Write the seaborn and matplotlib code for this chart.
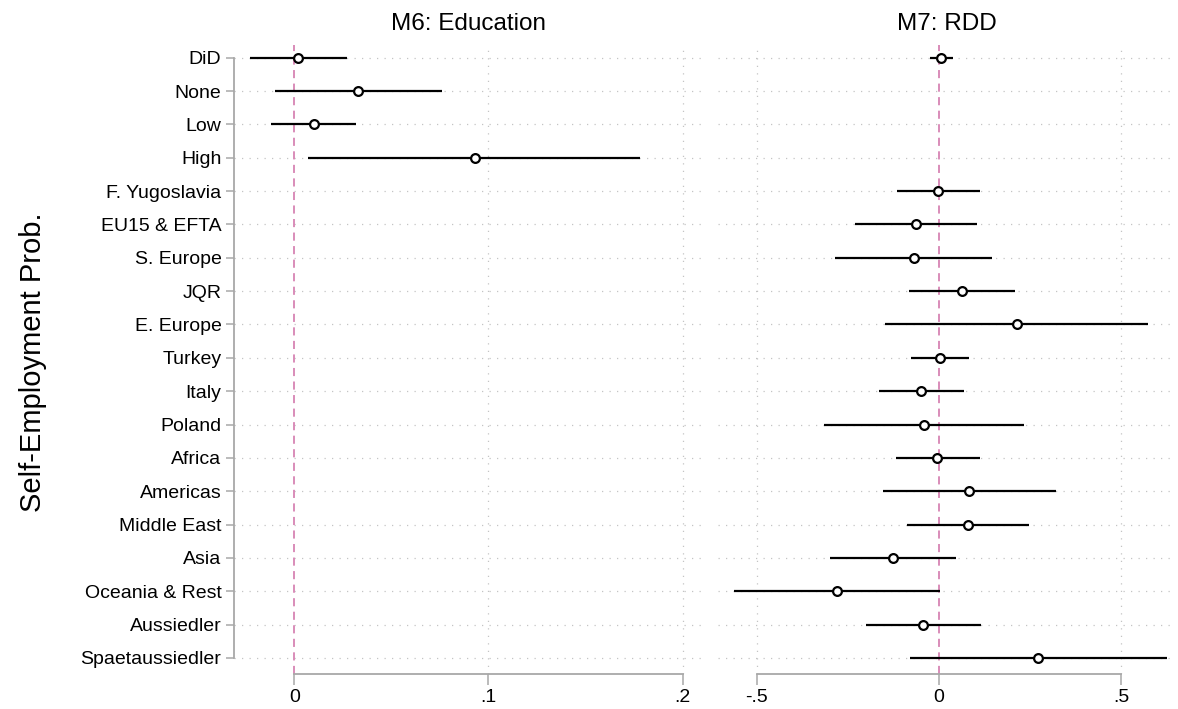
import numpy as np
import pandas as pd
import matplotlib
matplotlib.use("Agg")
import matplotlib.pyplot as plt
import seaborn as sns

# Row labels, top to bottom
terms = ["DiD", "None", "Low", "High", "F. Yugoslavia", "EU15 & EFTA",
         "S. Europe", "JQR", "E. Europe", "Turkey", "Italy", "Poland",
         "Africa", "Americas", "Middle East", "Asia", "Oceania & Rest",
         "Aussiedler", "Spaetaussiedler"]

# M6: Education
m6_terms = ["DiD", "None", "Low", "High"]
m6_coef = [0.002, 0.033, 0.010, 0.093]
m6_lo = [-0.023, -0.010, -0.012, 0.007]
m6_hi = [0.027, 0.076, 0.032, 0.178]

# M7: RDD
m7_terms = ["DiD", "F. Yugoslavia", "EU15 & EFTA", "S. Europe", "JQR",
            "E. Europe", "Turkey", "Italy", "Poland", "Africa", "Americas",
            "Middle East", "Asia", "Oceania & Rest", "Aussiedler",
            "Spaetaussiedler"]
m7_coef = [0.005, -0.003, -0.064, -0.070, 0.063, 0.213, 0.001, -0.049,
           -0.042, -0.005, 0.083, 0.079, -0.127, -0.281, -0.043, 0.271]
m7_lo = [-0.025, -0.116, -0.231, -0.286, -0.083, -0.148, -0.078, -0.165,
         -0.316, -0.118, -0.154, -0.089, -0.300, -0.563, -0.202, -0.080]
m7_hi = [0.037, 0.112, 0.103, 0.145, 0.208, 0.573, 0.082, 0.068,
         0.233, 0.112, 0.320, 0.247, 0.045, 0.002, 0.115, 0.624]

x_ticks_m6 = [0, 0.1, 0.2]
x_labels_m6 = ["0", ".1", ".2"]
x_ticks_m7 = [-0.5, 0, 0.5]
x_labels_m7 = ["-.5", "0", ".5"]

sns.set_theme(style="white")
plt.rcParams["font.family"] = ["Liberation Sans", "DejaVu Sans"]
plt.rcParams["text.color"] = "black"
plt.rcParams["xtick.labelcolor"] = "black"
plt.rcParams["ytick.labelcolor"] = "black"
plt.rcParams["axes.titlecolor"] = "black"

pos = {t: i for i, t in enumerate(terms)}
m6 = pd.DataFrame({"term": m6_terms, "coef": m6_coef, "lo": m6_lo, "hi": m6_hi})
m7 = pd.DataFrame({"term": m7_terms, "coef": m7_coef, "lo": m7_lo, "hi": m7_hi})
m6["y"] = m6["term"].map(pos)
m7["y"] = m7["term"].map(pos)

AXIS_GREY = "#a8a8a8"
GRID_GREY = "#c4c4c4"
REF_PINK = "#d783b3"

fig = plt.figure(figsize=(11.78, 7.09), dpi=100)
ax_l = fig.add_axes([234 / 1178, 1 - 674 / 709, 469 / 1178, 629 / 709])
ax_r = fig.add_axes([718 / 1178, 1 - 674 / 709, 458 / 1178, 629 / 709])

panels = [
    (ax_l, m6, "M6: Education", (-0.031, 0.2105), x_ticks_m6, x_labels_m6),
    (ax_r, m7, "M7: RDD", (-0.607, 0.650), x_ticks_m7, x_labels_m7),
]

n = len(terms)
for ax, df, title, xlim, xt, xl in panels:
    ax.set_xlim(*xlim)
    ax.set_ylim(n - 1 + 0.48, -0.38)
    # dotted grid
    for yy in range(n):
        ax.axhline(yy, color=GRID_GREY, lw=0.9, ls=(0, (1, 5)), zorder=0)
    for xx in xt:
        if xx != 0:
            ax.axvline(xx, color=GRID_GREY, lw=0.9, ls=(0, (1, 5)), zorder=0)
    # reference line at zero
    ax.axvline(0, color=REF_PINK, lw=1.3, ls=(0, (4.5, 3)), zorder=1)
    # confidence intervals
    ax.hlines(df["y"], df["lo"], df["hi"], color="black", lw=1.6, zorder=2)
    # point estimates
    sns.scatterplot(data=df, x="coef", y="y", ax=ax, marker="o", s=40,
                    facecolor="white", edgecolor="black", linewidth=1.6,
                    zorder=3, legend=False)
    ax.set_xlabel("")
    ax.set_ylabel("")
    ax.set_title(title, fontsize=17.5, pad=11, color="black")
    ax.set_xticks(xt)
    ax.set_xticklabels(xl, fontsize=14, color="black")
    ax.tick_params(axis="x", direction="out", length=8, width=1.1,
                   color=AXIS_GREY, pad=3, bottom=True)
    for s in ["top", "right"]:
        ax.spines[s].set_visible(False)
    ax.spines["bottom"].set_color(AXIS_GREY)
    ax.spines["bottom"].set_linewidth(1.3)
    ax.spines["bottom"].set_bounds(xt[0], xt[-1])
    ax.grid(False)

# y axis only on the left panel
ax_l.set_yticks(range(n))
ax_l.set_yticklabels(terms, fontsize=14, color="black")
ax_l.tick_params(axis="y", direction="out", length=6, width=1.1,
                 color=AXIS_GREY, pad=3, left=True)
ax_l.spines["left"].set_color(AXIS_GREY)
ax_l.spines["left"].set_linewidth(1.3)
ax_l.spines["left"].set_bounds(0, n - 1)

ax_r.spines["left"].set_visible(False)
ax_r.set_yticks([])

fig.text(33 / 1178, 1 - 362 / 709, "Self-Employment Prob.", rotation=90,
         ha="center", va="center", fontsize=21, color="black")

fig.savefig("out.png", dpi=100)
